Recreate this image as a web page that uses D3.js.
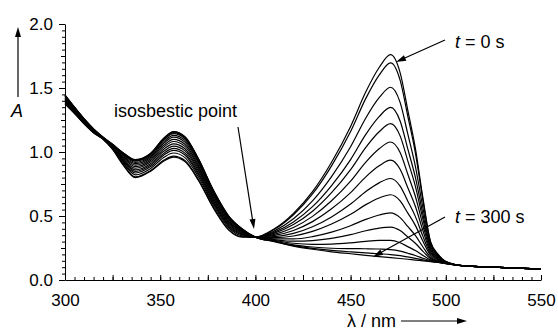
<!DOCTYPE html>
<html><head><meta charset="utf-8">
<script src="https://cdn.jsdelivr.net/npm/d3@7"></script>
<style>
body{margin:0;background:#fff}
svg{display:block}
text{font-family:"Liberation Sans",Arial,Helvetica,sans-serif;fill:#000}
</style>
</head><body>
<svg id="c" width="558" height="333"></svg>
<script>
// ---- data ----
const wavelengths = [300,305,310,315,320,325,330,337,345,352,357,363,370,378,386,393,400,410,420,430,440,450,458,465,471,476,480,484,488,492,496,500,510,525,550];
const xTickLabels = [300,350,400,450,500,550];
const yTickLabels = [0.0,0.5,1.0,1.5,2.0];

const curve01 = [1.375,1.300,1.220,1.150,1.100,1.020,0.910,0.800,0.850,0.930,0.960,0.925,0.780,0.560,0.390,0.335,0.335,0.400,0.520,0.690,0.920,1.200,1.470,1.660,1.760,1.620,1.330,1.030,0.640,0.300,0.200,0.145,0.110,0.100,0.085];
const curve02 = [1.378,1.302,1.222,1.151,1.101,1.022,0.914,0.806,0.856,0.937,0.968,0.933,0.787,0.566,0.394,0.338,0.335,0.396,0.510,0.672,0.892,1.160,1.419,1.601,1.697,1.562,1.283,0.995,0.620,0.294,0.197,0.144,0.110,0.100,0.085];
const curve03 = [1.386,1.308,1.226,1.155,1.102,1.026,0.924,0.822,0.872,0.959,0.992,0.956,0.807,0.582,0.408,0.345,0.335,0.384,0.479,0.618,0.808,1.041,1.266,1.424,1.506,1.388,1.143,0.890,0.562,0.275,0.190,0.142,0.110,0.100,0.085];
const curve04 = [1.393,1.313,1.230,1.158,1.104,1.030,0.933,0.836,0.886,0.977,1.012,0.976,0.824,0.596,0.419,0.352,0.335,0.374,0.454,0.573,0.738,0.941,1.138,1.276,1.348,1.242,1.026,0.803,0.513,0.259,0.184,0.141,0.110,0.100,0.085];
const curve05 = [1.399,1.317,1.234,1.160,1.105,1.034,0.941,0.848,0.898,0.991,1.028,0.991,0.838,0.608,0.427,0.357,0.335,0.366,0.433,0.537,0.682,0.862,1.036,1.158,1.221,1.126,0.933,0.733,0.473,0.247,0.179,0.139,0.110,0.100,0.085];
const curve06 = [1.405,1.322,1.237,1.163,1.106,1.037,0.949,0.860,0.910,1.007,1.046,1.009,0.853,0.620,0.437,0.363,0.335,0.357,0.410,0.497,0.619,0.772,0.921,1.025,1.078,0.996,0.828,0.654,0.429,0.233,0.173,0.138,0.110,0.100,0.085];
const curve07 = [1.411,1.326,1.241,1.166,1.108,1.041,0.957,0.873,0.923,1.024,1.064,1.026,0.868,0.633,0.447,0.369,0.335,0.348,0.387,0.456,0.556,0.683,0.806,0.892,0.936,0.865,0.723,0.576,0.385,0.219,0.167,0.136,0.110,0.100,0.085];
const curve08 = [1.418,1.331,1.244,1.168,1.109,1.044,0.965,0.885,0.935,1.040,1.082,1.044,0.884,0.645,0.457,0.375,0.335,0.339,0.364,0.416,0.493,0.593,0.691,0.759,0.793,0.734,0.618,0.497,0.341,0.205,0.162,0.135,0.110,0.100,0.085];
const curve09 = [1.423,1.335,1.248,1.171,1.110,1.048,0.972,0.897,0.947,1.054,1.098,1.060,0.897,0.657,0.466,0.380,0.335,0.331,0.344,0.380,0.437,0.513,0.589,0.641,0.666,0.618,0.524,0.427,0.302,0.192,0.157,0.133,0.110,0.100,0.085];
const curve10 = [1.430,1.339,1.251,1.173,1.112,1.051,0.980,0.909,0.959,1.070,1.116,1.077,0.913,0.669,0.476,0.386,0.335,0.322,0.321,0.339,0.374,0.424,0.474,0.508,0.524,0.487,0.419,0.348,0.258,0.178,0.151,0.132,0.110,0.100,0.085];
const curve11 = [1.435,1.343,1.254,1.176,1.113,1.054,0.987,0.919,0.969,1.083,1.130,1.091,0.925,0.679,0.484,0.390,0.335,0.315,0.303,0.308,0.325,0.354,0.385,0.405,0.413,0.386,0.337,0.287,0.224,0.167,0.146,0.131,0.110,0.100,0.085];
const curve12 = [1.439,1.346,1.257,1.177,1.114,1.057,0.992,0.928,0.978,1.095,1.143,1.103,0.936,0.688,0.491,0.394,0.335,0.309,0.287,0.278,0.280,0.290,0.302,0.309,0.310,0.291,0.261,0.230,0.192,0.157,0.142,0.129,0.110,0.100,0.085];
const curve13 = [1.442,1.348,1.258,1.179,1.114,1.058,0.996,0.934,0.984,1.103,1.152,1.112,0.943,0.694,0.496,0.397,0.335,0.304,0.275,0.258,0.248,0.245,0.244,0.242,0.238,0.226,0.209,0.191,0.170,0.150,0.140,0.129,0.110,0.100,0.085];
const curve14 = [1.444,1.349,1.259,1.180,1.115,1.059,0.999,0.938,0.988,1.107,1.157,1.117,0.947,0.698,0.498,0.399,0.335,0.302,0.269,0.247,0.231,0.220,0.212,0.205,0.199,0.190,0.180,0.169,0.157,0.146,0.138,0.128,0.110,0.100,0.085];
const curve15 = [1.445,1.350,1.260,1.180,1.115,1.060,1.000,0.940,0.990,1.110,1.160,1.120,0.950,0.700,0.500,0.400,0.335,0.300,0.265,0.240,0.220,0.205,0.193,0.183,0.175,0.168,0.162,0.156,0.150,0.144,0.137,0.128,0.110,0.100,0.085];

const spectra = [curve01,curve02,curve03,curve04,curve05,curve06,curve07,curve08,curve09,curve10,curve11,curve12,curve13,curve14,curve15];

// ---- drawing ----
const svg = d3.select('#c');
const x = d3.scaleLinear().domain([300,550]).range([65,541]);
const y = d3.scaleLinear().domain([0,2]).range([280,24]);

const line = d3.line()
  .x((d,i)=>x(wavelengths[i]))
  .y(d=>y(d))
  .curve(d3.curveMonotoneX);

svg.append('g')
  .selectAll('path').data(spectra).join('path')
  .attr('d', line)
  .attr('fill','none')
  .attr('stroke','#000')
  .attr('stroke-width',1.2);

const FONT = '"Liberation Sans",Arial,Helvetica,sans-serif';

// x axis: minor ticks (5 nm), medium (25 nm), labelled (50 nm), ticks pointing up
const gx = svg.append('g').attr('transform','translate(0,280)');
gx.append('g').call(d3.axisBottom(x).tickValues(d3.range(300,551,5)).tickSizeInner(-3).tickSizeOuter(0).tickFormat(''))
  .call(g=>g.select('.domain').remove());
gx.append('g').call(d3.axisBottom(x).tickValues(d3.range(300,551,25)).tickSizeInner(-5).tickSizeOuter(0)
    .tickPadding(14).tickFormat(d=> xTickLabels.includes(d) ? String(d) : ''))
  .attr('font-size',17).attr('font-family',FONT);

// y axis: minor ticks (0.05), medium (0.25), labelled (0.5), ticks pointing out
const gy = svg.append('g').attr('transform','translate(65,0)');
gy.append('g').call(d3.axisLeft(y).tickValues(d3.range(0,2.0001,0.05)).tickSizeInner(3).tickSizeOuter(0).tickFormat(''))
  .call(g=>g.select('.domain').remove());
gy.append('g').call(d3.axisLeft(y).tickValues([0.25,0.75,1.25,1.75]).tickSizeInner(4).tickSizeOuter(0).tickFormat(''))
  .call(g=>g.select('.domain').remove());
gy.append('g').call(d3.axisLeft(y).tickValues(yTickLabels).tickSizeInner(6).tickSizeOuter(0).tickPadding(6)
    .tickFormat(d3.format('.1f')))
  .attr('font-size',17).attr('font-family',FONT);

svg.selectAll('.domain, .tick line').attr('stroke','#000').attr('stroke-width',1);

// arrows
function arrow(x1,y1,x2,y2,len=10,half=3){
  const dx=x2-x1, dy=y2-y1, L=Math.hypot(dx,dy), ux=dx/L, uy=dy/L, nx=-uy, ny=ux;
  svg.append('line').attr('x1',x1).attr('y1',y1).attr('x2',x2-ux*len*0.6).attr('y2',y2-uy*len*0.6)
    .attr('stroke','#000').attr('stroke-width',1.2);
  const bx=x2-ux*len, by=y2-uy*len;
  svg.append('path').attr('d',`M${x2},${y2}L${bx+nx*half},${by+ny*half}L${bx-nx*half},${by-ny*half}Z`).attr('fill','#000');
}

// axis titles
svg.append('text').attr('x',11).attr('y',117).attr('font-size',18).attr('font-style','italic').text('A');
arrow(18,97,18,27,10,3);
svg.append('text').attr('x',347).attr('y',327).attr('font-size',18).text('λ / nm');
arrow(401,321,467,321,10,3);

// annotations
const t0 = svg.append('text').attr('x',455).attr('y',48).attr('font-size',18);
t0.append('tspan').attr('font-style','italic').text('t');
t0.append('tspan').text(' = 0 s');
arrow(445,40,396,62,10,3);

const t300 = svg.append('text').attr('x',455).attr('y',223).attr('font-size',18);
t300.append('tspan').attr('font-style','italic').text('t');
t300.append('tspan').text(' = 300 s');
arrow(445,217,373,257,10,3);

svg.append('text').attr('x',114).attr('y',117).attr('font-size',18).attr('textLength',null).text('isosbestic point');
arrow(238,127,254,229,10,3);
</script>
</body></html>
